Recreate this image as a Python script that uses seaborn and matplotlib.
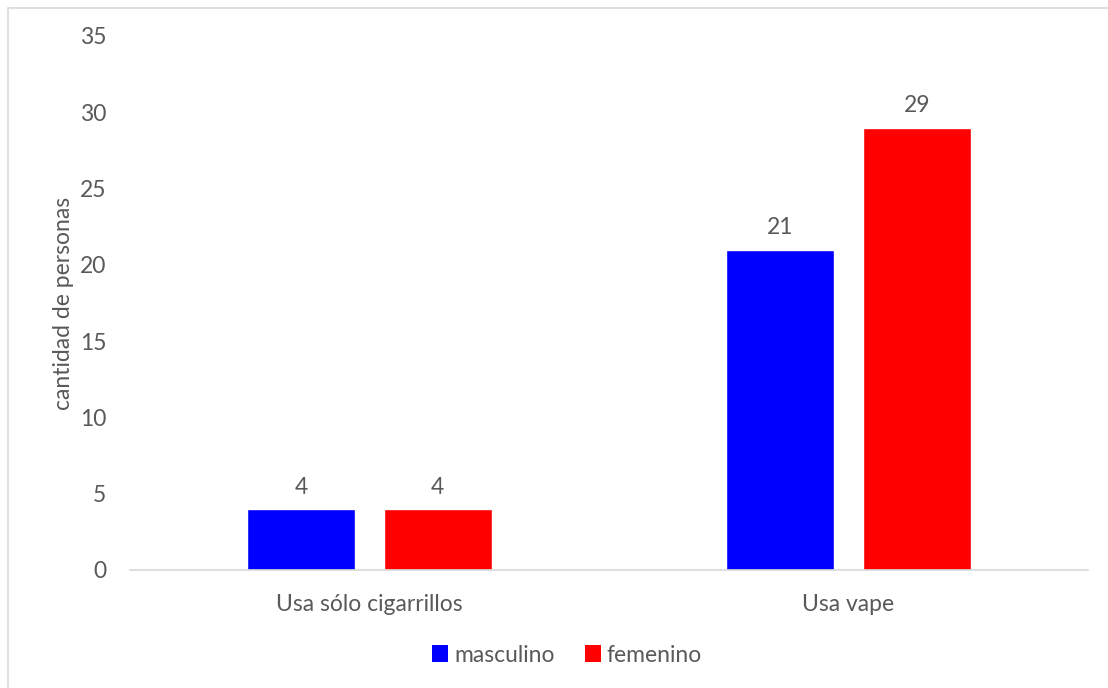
import matplotlib
matplotlib.use("Agg")
import matplotlib.pyplot as plt
from matplotlib.patches import Rectangle, Patch
import seaborn as sns
import pandas as pd

categories = ["Usa sólo cigarrillos", "Usa vape"]
masculino = [4, 21]
femenino = [4, 29]
series_names = ["masculino", "femenino"]
colors = ["#0000FF", "#FF0000"]
y_ticks = [0, 5, 10, 15, 20, 25, 30, 35]

df = pd.DataFrame({
    "categoria": categories * 2,
    "sexo": [series_names[0]] * len(categories) + [series_names[1]] * len(categories),
    "valor": masculino + femenino,
})

sns.set_theme(style="white")
plt.rcParams["font.family"] = ["Lato", "DejaVu Sans"]
text_color = "#595959"
fs = 16.5

W, H = 1108, 688
fig = plt.figure(figsize=(W / 100, H / 100), dpi=100)
ax_left, ax_right, ax_top, ax_bottom = 130, 1088, 36, 570
ax = fig.add_axes([ax_left / W, 1 - ax_bottom / H, (ax_right - ax_left) / W, (ax_bottom - ax_top) / H])

sns.barplot(data=df, x="categoria", y="valor", hue="sexo", hue_order=series_names,
            palette=colors, width=0.57, gap=0.21, saturation=1, ax=ax,
            legend=False, errorbar=None)

for cont in ax.containers:
    ax.bar_label(cont, padding=8, fontsize=fs, color=text_color)

ax.set_ylim(0, 35)
ax.set_yticks(y_ticks)
ax.set_xlim(-0.5, 1.5)
ax.set_xlabel("")
ax.set_ylabel("cantidad de personas", fontsize=fs, color=text_color)
ax.yaxis.set_label_coords((74 - ax_left) / (ax_right - ax_left), 0.5)
ax.tick_params(axis="both", length=0, labelsize=fs, colors=text_color)
ax.tick_params(axis="y", pad=17)
ax.tick_params(axis="x", pad=17)
for s in ["top", "right", "left"]:
    ax.spines[s].set_visible(False)
ax.spines["bottom"].set_color("#d9d9d9")
ax.spines["bottom"].set_linewidth(1.2)

handles = [Patch(facecolor=c, edgecolor="none") for c in colors]
fig.legend(handles, series_names, loc="center", bbox_to_anchor=(567 / W, 1 - 655 / H),
           ncol=2, frameon=False, fontsize=fs, labelcolor=text_color,
           handlelength=0.7, handleheight=0.7, handletextpad=0.25, columnspacing=1.3)

fig.patches.append(Rectangle((8 / W, -0.1), 1.2, 1 - 8 / H + 0.1, transform=fig.transFigure,
                             fill=False, edgecolor="#d9d9d9", linewidth=1.2))

fig.savefig("out.png", dpi=100, facecolor="white")
